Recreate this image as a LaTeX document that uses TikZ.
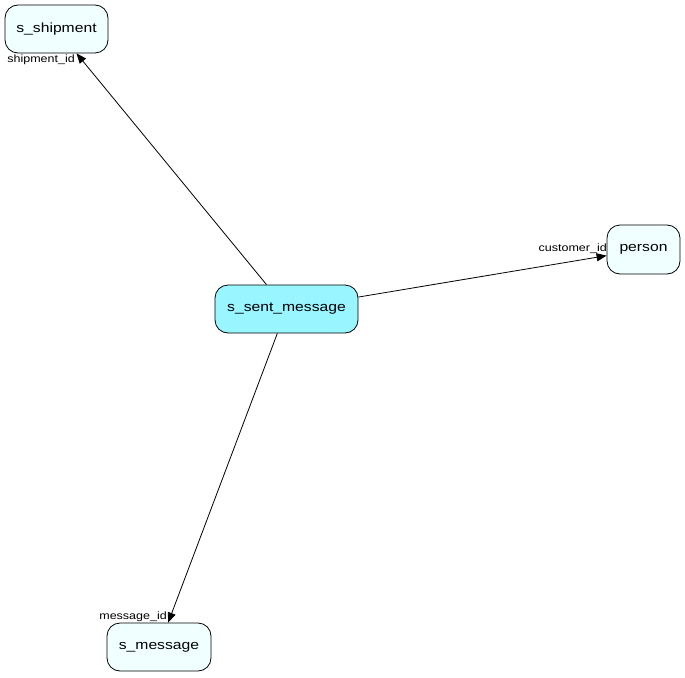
\documentclass[tikz,border=0pt]{standalone}
\usepackage{fontspec}
\setmainfont{Liberation Sans}
\newfontfamily\dgfont[FakeStretch=1.18]{Liberation Sans}
\usetikzlibrary{arrows.meta}
\definecolor{mainfill}{HTML}{99F5FF}
\definecolor{otherfill}{HTML}{F0FFFF}
\tikzset{
  tbl/.style={draw=black, rounded corners=13pt, line width=0.8pt, inner sep=0pt, font=\dgfont\fontsize{13.3}{15}\selectfont, text=black},
  fk/.style={-{Triangle[length=10pt,width=8pt]}, line width=0.8pt},
  lbl/.style={font=\dgfont\fontsize{10.6}{12}\selectfont, inner sep=0pt}
}
\begin{document}
\begin{tikzpicture}[x=1pt,y=-1pt]
\useasboundingbox (0,0) rectangle (685,677);
\node[tbl, fill=mainfill, minimum width=143pt, minimum height=48pt] (sent) at (286.5,309) {s\_sent\_message};
\node[tbl, fill=otherfill, minimum width=103pt, minimum height=48pt] (ship) at (56.5,29) {s\_shipment};
\node[tbl, fill=otherfill, minimum width=73pt, minimum height=49pt] (person) at (643.5,249.5) {person};
\node[tbl, fill=otherfill, minimum width=104pt, minimum height=48pt] (msg) at (159,647) {s\_message};
\draw[fk] (sent) -- (ship);
\draw[fk] (sent) -- (person);
\draw[fk] (sent) -- (msg);
\node[lbl, anchor=east] (l1) at (75,59.5) {shipment\_id};
\node[lbl, anchor=east] (l2) at (607,248.5) {customer\_id};
\node[lbl, anchor=east] (l3) at (167,617) {message\_id};
\end{tikzpicture}
\end{document}
